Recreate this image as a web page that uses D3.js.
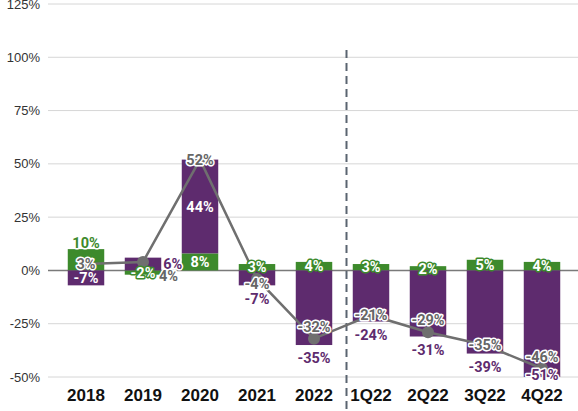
<html>
<head>
<meta charset="utf-8">
<style>
  body { margin: 0; background: #fff; }
  svg { display: block; }
</style>
</head>
<body>
<svg id="svg"></svg>
<script src="https://d3js.org/d3.v7.min.js"></script>
<script>

const categories = ["2018", "2019", "2020", "2021", "2022", "1Q22", "2Q22", "3Q22", "4Q22"];
const greenValues = [10, -2, 8, 3, 4, 3, 2, 5, 4];
const purpleValues = [-7, 6, 44, -7, -35, -24, -31, -39, -51];
const netValues = [3, 4, 52, -4, -32, -21, -29, -35, -46];
const yTicks = [-50, -25, 0, 25, 50, 75, 100, 125];

// where each label sits
const greenLabelPos = ["outside", "inside", "inside", "inside", "inside", "inside", "inside", "inside", "inside"];
const purpleLabelPos = ["inside", "right", "inside", "outside", "outside", "outside", "outside", "outside", "outside"];
const netLabelPos = ["center", "right", "center", "below", "above", "center", "above", "center", "above"];

const width = 578;
const height = 411;

const green = "#3d8a2c";
const purple = "#5e2b6e";
const grey = "#6f6f6f";

const svg = d3.select("#svg")
    .attr("width", width)
    .attr("height", height);

const x = d3.scaleBand()
    .domain(categories)
    .range([57.5, 570.5])
    .paddingInner(0.36)
    .paddingOuter(0.18);

const y = d3.scaleLinear()
    .domain([-50, 125])
    .range([377, 4])
    .clamp(true);

// grid
svg.append("g")
    .selectAll("line")
    .data(yTicks)
    .join("line")
    .attr("x1", 48)
    .attr("x2", width)
    .attr("y1", d => y(d))
    .attr("y2", d => y(d))
    .attr("stroke", d => d === 0 ? "#7a7a7a" : "#d6d6d6")
    .attr("stroke-width", d => d === 0 ? 1.6 : 1);

// y axis labels
svg.append("g")
    .selectAll("text")
    .data(yTicks)
    .join("text")
    .attr("x", 40)
    .attr("y", d => y(d))
    .attr("dy", "0.35em")
    .attr("text-anchor", "end")
    .attr("font-family", "'Liberation Sans', Arial, sans-serif")
    .attr("font-size", 13)
    .attr("fill", "#333")
    .text(d => d + "%");

// stacked bars
const rows = categories.map((c, i) => ({ cat: c, green: greenValues[i], purple: purpleValues[i] }));
const stacked = d3.stack()
    .keys(["green", "purple"])
    .offset(d3.stackOffsetDiverging)(rows);

const colors = { green: green, purple: purple };

svg.append("g")
    .selectAll("g")
    .data(stacked)
    .join("g")
    .attr("fill", d => colors[d.key])
    .selectAll("rect")
    .data(d => d)
    .join("rect")
    .attr("x", d => x(d.data.cat))
    .attr("width", x.bandwidth())
    .attr("y", d => y(Math.max(d[0], d[1])))
    .attr("height", d => Math.abs(y(d[0]) - y(d[1])));

// dashed separator between years and quarters
const sepX = (x("2022") + x.bandwidth() + x("1Q22")) / 2 + 4;
svg.append("line")
    .attr("x1", sepX)
    .attr("x2", sepX)
    .attr("y1", 50)
    .attr("y2", height)
    .attr("stroke", "#5a6470")
    .attr("stroke-width", 2)
    .attr("stroke-dasharray", "8,5");

// net line
const cx = d => x(d) + x.bandwidth() / 2;
svg.append("path")
    .datum(netValues)
    .attr("fill", "none")
    .attr("stroke", grey)
    .attr("stroke-width", 2.5)
    .attr("d", d3.line()
        .x((d, i) => cx(categories[i]))
        .y(d => y(d)));

svg.append("g")
    .selectAll("circle")
    .data(netValues)
    .join("circle")
    .attr("cx", (d, i) => cx(categories[i]))
    .attr("cy", d => y(d))
    .attr("r", 6)
    .attr("fill", grey);

// labels
const labelFont = "Roboto, 'Noto Sans', sans-serif";

function addLabel(xp, yp, txt, fill, halo, anchor) {
  svg.append("text")
    .attr("x", xp)
    .attr("y", yp)
    .attr("dy", "0.36em")
    .attr("text-anchor", anchor || "middle")
    .attr("font-family", labelFont)
    .attr("font-weight", "bold")
    .attr("font-size", 14.5)
    .attr("fill", fill)
    .attr("stroke", halo)
    .attr("stroke-width", 3)
    .attr("stroke-linejoin", "round")
    .attr("paint-order", "stroke")
    .text(txt);
}

stacked.forEach(layer => {
  layer.forEach((d, i) => {
    const c = cx(categories[i]);
    const v = d.data[layer.key];
    const top = y(Math.max(d[0], d[1]));
    const bot = y(Math.min(d[0], d[1]));
    const pos = layer.key === "green" ? greenLabelPos[i] : purpleLabelPos[i];
    const col = colors[layer.key];
    const txt = v + "%";
    if (pos === "inside") {
      addLabel(c, (top + bot) / 2, txt, "#fff", col);
    } else if (pos === "right") {
      addLabel(x(categories[i]) + x.bandwidth() + 2, (top + bot) / 2, txt, col, "#fff", "start");
    } else if (v >= 0) {
      addLabel(c, top - 6, txt, col, "#fff");
    } else {
      // keep the label inside the plot when the bar runs past the axis
      addLabel(c, Math.min(bot + 13, y.range()[0] - 2), txt, col, "#fff");
    }
  });
});

netValues.forEach((v, i) => {
  const c = cx(categories[i]);
  const p = y(v);
  const pos = netLabelPos[i];
  let lx = c, ly = p, anchor = "middle";
  if (pos === "above") ly = p - 12;
  if (pos === "below") ly = p + 5;
  if (pos === "right") { lx = c + 16; ly = p + 14; anchor = "start"; }
  addLabel(lx, ly, v + "%", "#666", "#fff", anchor);
});

// x axis labels
svg.append("g")
    .selectAll("text")
    .data(categories)
    .join("text")
    .attr("x", d => cx(d))
    .attr("y", 401)
    .attr("text-anchor", "middle")
    .attr("font-family", "'Liberation Sans', Arial, sans-serif")
    .attr("font-weight", "bold")
    .attr("font-size", 17)
    .attr("fill", "#111")
    .text(d => d);

</script>
</body>
</html>
